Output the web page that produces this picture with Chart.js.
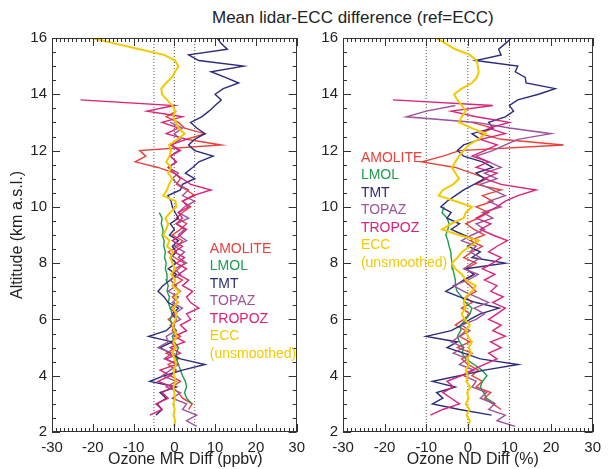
<!DOCTYPE html>
<html>
<head>
<meta charset="utf-8">
<script src="https://cdn.jsdelivr.net/npm/chart.js@4.4.1/dist/chart.umd.min.js"></script>
<style>
  html, body { margin: 0; padding: 0; background: #fff; }
  #wrap { position: relative; width: 608px; height: 469px; overflow: hidden; font-family: "Liberation Sans", Arial, sans-serif; }
  #title { position: absolute; left: 212px; top: 8px; font-size: 17px; line-height: 20px; color: #222; white-space: nowrap; }
  #mr { position: absolute; left: 0; top: 0; }
  #nd { position: absolute; left: 312px; top: 0; }
</style>
</head>
<body>
<div id="wrap">
  <div id="title">Mean lidar-ECC difference (ref=ECC)</div>
  <canvas id="mr" width="312" height="469"></canvas>
  <canvas id="nd" width="296" height="469"></canvas>
</div>
<script>
const _ = null;

// altitude grid (km a.s.l.)
const ALT = [
  2.2, 2.4, 2.6, 2.8, 3.0, 3.2, 3.4, 3.6, 3.8, 4.0,
  4.2, 4.4, 4.6, 4.8, 5.0, 5.2, 5.4, 5.6, 5.8, 6.0,
  6.2, 6.4, 6.6, 6.8, 7.0, 7.2, 7.4, 7.6, 7.8, 8.0,
  8.2, 8.4, 8.6, 8.8, 9.0, 9.2, 9.4, 9.6, 9.8, 10.0,
  10.2, 10.4, 10.6, 10.8, 11.0, 11.2, 11.4, 11.6, 11.8, 12.0,
  12.2, 12.4, 12.6, 12.8, 13.0, 13.2, 13.4, 13.6, 13.8, 14.0,
  14.2, 14.4, 14.6, 14.8, 15.0, 15.2, 15.4, 15.6, 15.8, 16.0
];

// ---- left panel: ozone mixing ratio difference (ppbv)
const amoliteMR = [
  _, _, _, 3.5, 4.4, 2.0, 1.0, -0.5, 1.5, -1.0,
  0.5, -1.5, 1.0, -2.0, 0.5, -1.0, 1.5, -0.5, 0.0, -1.5,
  0.5, -1.0, 1.0, -0.5, 1.5, 0.0, 2.0, -0.5, 1.0, 2.5,
  0.0, -1.5, 1.0, 2.0, -0.5, 1.5, 3.0, 0.5, 2.0, 4.0,
  2.0, 5.0, 3.0, 0.5, 1.5, 0.0, -4.0, -9.6, -7.0, -8.5,
  11.5, 3.0, 7.5, 2.5, 1.0, -2.0, 0.5, _, _, _,
  _, _, _, _, _, _, _, _, _, _
];
const lmolMR = [
  _, _, _, _, 4.3, 3.0, 2.5, 3.0, 2.7, 2.0,
  1.5, 1.0, 0.5, 0.5, 1.0, 0.0, -0.5, 0.5, -0.5, -1.0,
  -0.5, -1.0, -1.5, -1.2, -1.8, -1.5, -2.0, -1.8, -2.2, -2.0,
  -2.4, -2.2, -2.6, -2.5, -3.0, -2.8, -3.2, -3.0, -3.7, _,
  _, _, _, _, _, _, _, _, _, _,
  _, _, _, _, _, _, _, _, _, _,
  _, _, _, _, _, _, _, _, _, _
];
const tmtMR = [
  _, _, -4.5, -3.0, -4.2, -2.0, -3.5, 0.5, -6.0, -2.5,
  2.0, 7.5, 1.5, -1.0, -3.5, -0.5, -6.3, -2.0, -0.5, 0.5,
  -0.5, 1.0, -1.5, -2.5, -4.0, -2.8, -1.0, 0.5, -1.5, 0.5,
  -1.0, 0.5, -0.5, 1.0, -1.2, 0.0, -1.0, 1.0, 0.2, -0.5,
  -0.8, -1.6, 1.5, 2.0, 5.0, 2.7, 4.5, 6.0, 9.5, 5.0,
  3.5, 5.0, 7.5, 5.5, 4.0, 6.7, 8.5, 10.0, 11.5, 10.0,
  12.0, 15.8, 12.5, 9.0, 17.0, 6.0, 3.5, 13.0, 11.5, 10.5
];
const topazMR = [
  5.5, 3.0, 5.5, 2.0, 3.0, -0.5, 1.5, -2.0, 0.5, -3.0,
  -1.0, 1.0, -2.5, -0.5, -4.0, -1.5, -2.0, 0.5, -1.0, 1.5,
  0.0, 2.0, -0.5, 1.0, -1.5, 0.5, -1.0, 1.5, 0.0, 3.0,
  1.0, 2.5, 0.0, 3.0, 1.0, 2.5, 0.5, 3.5, 1.0, 2.5,
  5.0, 2.0, 3.5, 1.0, -0.5, 1.0, -1.5, 0.5, -1.0, 1.0,
  -0.5, 1.5, 0.0, 2.0, -1.0, _, _, _, _, _,
  _, _, _, _, _, _, _, _, _, _
];
const tropozMR = [
  _, _, -6.0, -3.0, -4.5, -1.5, -3.0, -0.5, -4.0, -1.0,
  -3.5, 0.5, -2.0, 1.5, -1.0, 2.5, 0.0, 3.0, 1.5, 4.0,
  3.0, 6.0, 4.0, 3.0, 4.5, 2.0, 3.5, 1.0, 3.0, 0.5,
  2.5, 0.0, 2.0, -0.5, 1.5, 3.0, 0.5, 2.0, 1.0, 3.5,
  2.0, 4.5, 9.0, 4.0, 2.0, 0.0, -1.5, 0.5, -1.0, 1.5,
  -1.0, 3.0, -2.0, 1.0, -3.0, 2.0, -6.7, 0.0, -23.0, _,
  _, _, _, _, _, _, _, _, _, _
];
const eccMR = [
  0.0, 0.2, -0.2, 0.1, -0.3, 0.2, 0.0, -0.2, 0.3, 0.0,
  -0.2, 0.4, 0.1, -0.5, 0.3, -0.2, 0.6, 0.0, -0.4, 0.3,
  0.5, -0.3, 0.8, 0.2, 1.2, -0.5, 0.3, -0.8, 0.2, -0.5,
  -1.0, -0.3, -1.8, -1.2, -2.7, -2.0, -1.5, -2.2, -1.0, 0.5,
  0.3, -2.7, -1.8, -1.3, -0.5, -1.5, -0.8, -2.0, -1.2, -0.8,
  -1.3, 0.8, 2.5, 1.0, 0.4, -0.3, 0.2, -0.5, -1.8, -3.0,
  -3.2, -2.0, -0.6, 0.2, 1.0, 0.2, -2.5, -8.5, -14.5, -20.3
];

// ---- right panel: ozone number density difference (%)
const amoliteND = [
  _, _, _, 8.0, 6.0, 4.0, 5.5, 2.0, 3.5, 1.0,
  2.5, 0.0, -1.5, 1.0, -2.5, 0.5, -2.0, -0.5, -3.0, -1.0,
  0.5, -1.5, 1.0, -0.5, 2.0, 0.5, -1.0, 1.5, -0.5, 2.0,
  -1.0, 1.0, 3.5, 0.5, 4.0, 1.5, -0.5, 2.5, 5.0, 2.0,
  6.0, 3.5, 8.0, 2.0, 4.5, 1.0, -3.0, -11.0, -6.0, -2.0,
  23.0, 8.0, 3.0, 6.0, 1.0, _, _, _, _, _,
  _, _, _, _, _, _, _, _, _, _
];
const lmolND = [
  _, _, _, _, 6.6, 4.5, 3.8, 3.0, 3.5, 4.6,
  3.4, 1.5, -0.5, -1.4, -1.0, -2.0, -2.5, -1.7, -1.7, -0.5,
  0.5, 1.0, -0.5, -1.5, -2.6, -3.0, -3.0, -3.3, -3.6, -3.8,
  -4.0, -4.1, -4.5, -4.8, -5.3, -4.8, -4.5, -5.0, -6.2, -5.7,
  _, _, _, _, _, _, _, _, _, _,
  _, _, _, _, _, _, _, _, _, _,
  _, _, _, _, _, _, _, _, _, _
];
const tmtND = [
  _, _, 5.7, -2.0, -8.5, -6.0, -7.5, -3.0, -8.5, -2.0,
  4.0, 12.1, 3.0, -1.0, -5.0, -2.5, -10.0, -4.0, -1.5, 0.5,
  3.0, 7.5, 2.0, -2.0, -5.3, -3.0, -1.0, 1.5, -0.5, 9.0,
  1.0, 3.0, 0.0, 2.5, -1.0, -4.0, -2.0, -5.0, -4.0, -6.5,
  -5.0, -3.0, -1.0, 1.5, 4.0, 2.0, 6.0, 3.5, -1.0, -2.5,
  -1.0, 3.0, 1.0, 6.0, 5.0, 9.0, 11.0, 10.0, 12.0, 17.0,
  21.0, 14.0, 13.8, 11.4, 12.0, 1.9, 8.0, 7.4, 9.0, 10.5
];
const topazND = [
  11.4, 7.0, 9.0, 5.0, 6.5, 3.0, 4.5, 1.0, 2.0, -1.0,
  1.5, -2.0, 0.0, -3.5, -1.0, -4.0, -2.0, 0.5, -1.5, 2.0,
  4.0, 1.5, 5.0, 2.0, -1.0, -3.5, 0.0, 2.5, -1.0, 1.0,
  3.0, 0.5, 2.0, -1.5, 1.0, 4.0, 2.0, 6.0, 3.5, 8.0,
  5.0, 9.0, 6.0, 3.0, 7.0, 4.0, 8.0, 5.0, 2.0, 6.0,
  9.0, 12.0, 20.0, 10.0, 2.0, -14.8, -10.0, -3.0, _, _,
  _, _, _, _, _, _, _, _, _, _
];
const tropozND = [
  _, _, -9.0, -6.0, -2.0, -4.0, -6.0, -3.5, -5.0, -1.5,
  1.0, 4.0, 7.0, 5.0, 8.0, 5.5, 9.0, 6.0, 8.0, 5.0,
  7.0, 9.0, 6.0, 8.5, 5.5, 7.0, 4.0, 6.5, 3.5, 6.0,
  8.0, 5.0, 7.0, 9.5, 6.0, 3.0, 5.5, 2.0, 4.5, 7.0,
  9.0, 12.0, 16.4, 8.0, 4.0, 7.0, 2.0, 5.0, 1.0, 4.0,
  7.0, 3.0, 9.0, 5.0, 10.0, 2.0, -4.0, 6.0, -18.0, _,
  _, _, _, _, _, _, _, _, _, _
];
const eccND = [
  0.0, 0.5, -0.3, 0.4, -0.5, 0.2, -0.2, 0.6, -0.4, 0.0,
  -0.5, 0.3, -0.2, 0.8, 0.2, 1.0, 0.0, -0.5, 0.5, -0.8,
  -1.5, -0.5, -1.0, -0.5, 1.0, 1.9, -0.5, -1.4, -3.0, -3.8,
  -2.5, -1.4, 0.5, 2.6, -2.1, -6.2, -4.0, -1.0, -0.5, 1.0,
  -2.9, -7.0, -6.0, -3.5, -2.1, -3.0, -3.8, -3.0, -2.1, -1.0,
  0.2, 2.5, 4.3, 1.0, -2.1, -1.5, -0.5, -1.4, -2.5, -3.3,
  -1.5, 1.0, 2.2, 2.6, 2.4, 2.1, 0.5, -3.0, -5.3, -7.6
];

const SERIES = ['AMOLITE', 'LMOL', 'TMT', 'TOPAZ', 'TROPOZ', 'ECC'];
const COLORS = ['#e8403a', '#1c9c4c', '#2c2b7c', '#9e549a', '#dc2179', '#f3ca00'];
const MR_VALUES = [amoliteMR, lmolMR, tmtMR, topazMR, tropozMR, eccMR];
const ND_VALUES = [amoliteND, lmolND, tmtND, topazND, tropozND, eccND];
const MR_REFS = [-5, 0, 5];
const ND_REFS = [-10, 0, 10];

const FONT = '"Liberation Sans", Arial, sans-serif';

const toPoints = vals => vals.map((v, i) => v === null ? null : { x: v, y: ALT[i] }).filter(p => p);

// frame, inward ticks on all four sides, coloured series names, x axis title
const panelDecor = {
  id: 'panelDecor',
  afterDraw(chart, args, opts) {
    const { ctx, chartArea: a, scales: { x, y } } = chart;
    ctx.save();
    ctx.strokeStyle = '#333';
    ctx.lineWidth = 1;
    ctx.strokeRect(Math.round(a.left) + 0.5, Math.round(a.top) + 0.5,
                   Math.round(a.right - a.left) - 1, Math.round(a.bottom - a.top) - 1);
    ctx.beginPath();
    for (let v = -30; v <= 30; v++) {
      const px = Math.round(x.getPixelForValue(v)) + 0.5;
      const len = v % 10 === 0 ? 8 : 4;
      ctx.moveTo(px, a.top); ctx.lineTo(px, a.top + len);
      ctx.moveTo(px, a.bottom); ctx.lineTo(px, a.bottom - len);
    }
    for (let k = 4; k <= 32; k++) {
      const py = Math.round(y.getPixelForValue(k / 2)) + 0.5;
      const len = k % 4 === 0 ? 8 : 4;
      ctx.moveTo(a.left, py); ctx.lineTo(a.left + len, py);
      ctx.moveTo(a.right, py); ctx.lineTo(a.right - len, py);
    }
    ctx.stroke();

    ctx.font = '14px ' + FONT;
    ctx.textBaseline = 'middle';
    ctx.textAlign = 'left';
    const lx = x.getPixelForValue(opts.legendAt[0]);
    const ly = y.getPixelForValue(opts.legendAt[1]);
    const lines = SERIES.map((s, i) => ({ text: s, color: COLORS[i] }));
    lines.push({ text: '(unsmoothed)', color: COLORS[5] });
    lines.forEach((l, i) => {
      ctx.fillStyle = l.color;
      ctx.fillText(l.text, lx, ly + i * 17.5);
    });

    ctx.font = '16px ' + FONT;
    ctx.fillStyle = '#222';
    ctx.textAlign = 'center';
    ctx.fillText(opts.xTitle, (a.left + a.right) / 2 + opts.xTitleShift, 460);
    ctx.restore();
  }
};

function makePanel(canvasId, values, refs, opts) {
  const datasets = [];
  refs.forEach(r => {
    datasets.push({
      data: [{ x: r, y: 2 }, { x: r, y: 16 }],
      borderColor: '#555', borderWidth: 1, borderDash: [1, 2],
      pointRadius: 0, showLine: true, order: 100
    });
  });
  SERIES.forEach((s, i) => {
    datasets.push({
      label: s,
      data: toPoints(values[i]),
      borderColor: COLORS[i],
      borderWidth: s === 'ECC' ? 2 : 1.4,
      pointRadius: 0, showLine: true, tension: 0,
      order: SERIES.length - i
    });
  });

  return new Chart(document.getElementById(canvasId), {
    type: 'scatter',
    data: { datasets },
    options: {
      responsive: false,
      animation: false,
      events: [],
      layout: { autoPadding: false, padding: { left: 0, right: opts.padRight, top: 38, bottom: 0 } },
      plugins: {
        legend: { display: false },
        tooltip: { enabled: false },
        panelDecor: { legendAt: opts.legendAt, xTitle: opts.xTitle, xTitleShift: opts.xTitleShift }
      },
      scales: {
        x: {
          type: 'linear', min: -30, max: 30,
          grid: { display: false, drawTicks: false },
          border: { display: false },
          ticks: { stepSize: 10, padding: 7, color: '#222', font: { family: FONT, size: 15 } },
          afterFit: s => { s.height = 37; }
        },
        y: {
          type: 'linear', min: 2, max: 16,
          grid: { display: false, drawTicks: false },
          border: { display: false },
          ticks: { stepSize: 2, padding: 5, color: '#222', font: { family: FONT, size: 15 } },
          title: {
            display: opts.yTitle !== '',
            text: opts.yTitle,
            color: '#222',
            font: { family: FONT, size: 16 },
            padding: { top: 8, bottom: 0 }
          },
          afterFit: s => { s.width = opts.yWidth; }
        }
      }
    },
    plugins: [panelDecor]
  });
}

makePanel('mr', MR_VALUES, MR_REFS, {
  padRight: 7, yWidth: 52, yTitle: 'Altitude (km a.s.l.)',
  legendAt: [8.7, 8.5], xTitle: 'Ozone MR Diff (ppbv)', xTitleShift: 11
});
makePanel('nd', ND_VALUES, ND_REFS, {
  padRight: 13, yWidth: 31, yTitle: '',
  legendAt: [-25.7, 11.74], xTitle: 'Ozone ND Diff (%)', xTitleShift: 5
});
</script>
</body>
</html>
